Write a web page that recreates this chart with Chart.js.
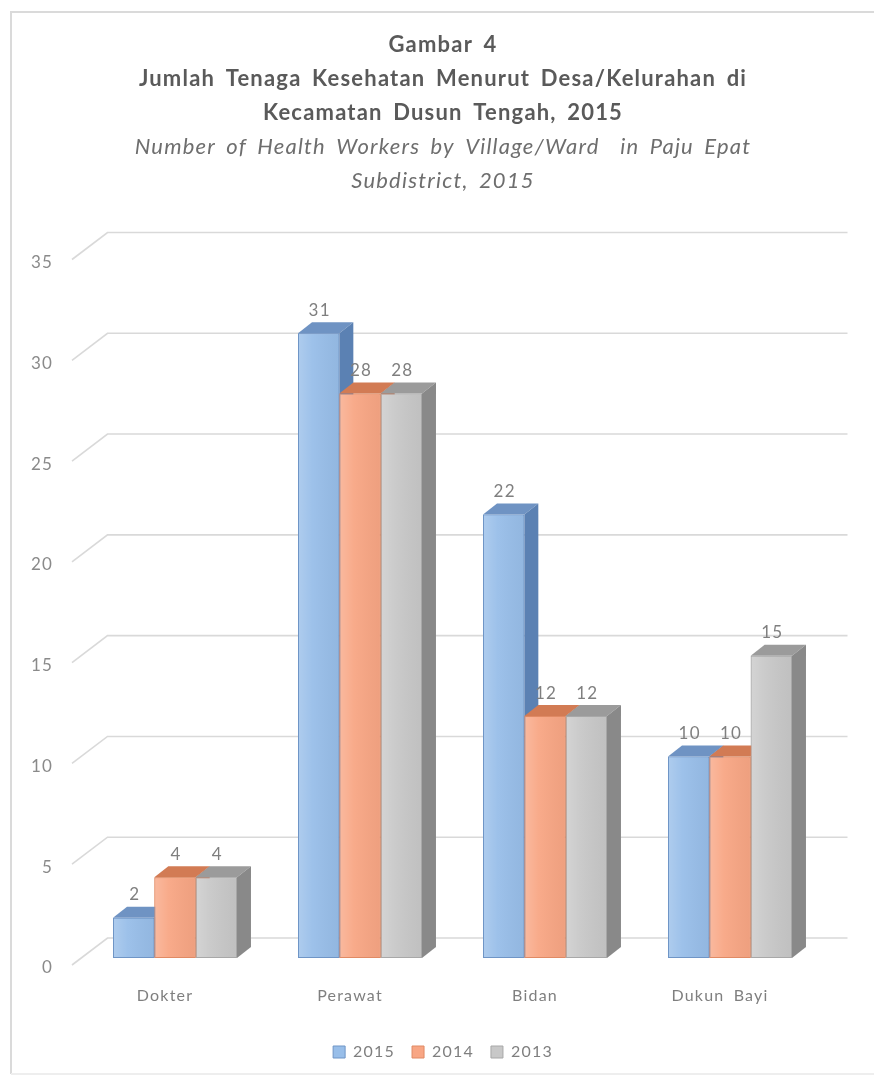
<!DOCTYPE html>
<html><head><meta charset="utf-8">
<script src="https://cdn.jsdelivr.net/npm/chart.js@4/dist/chart.umd.min.js"></script>
<style>html,body{margin:0;padding:0;background:#fff}canvas{display:block}</style>
</head><body>
<canvas id="c" width="874" height="1079"></canvas>
<script>
const categories = ['Dokter', 'Perawat', 'Bidan', 'Dukun Bayi'];
const years = ['2015', '2014', '2013'];
const values2015 = [2, 31, 22, 10];
const values2014 = [4, 28, 12, 10];
const values2013 = [4, 28, 12, 15];
const yTicks = [0, 5, 10, 15, 20, 25, 30, 35];
const titleLines = ['Gambar 4', 'Jumlah Tenaga Kesehatan Menurut Desa/Kelurahan di', 'Kecamatan Dusun Tengah, 2015'];
const subtitleLines = ['Number of Health Workers by Village/Ward  in Paju Epat', 'Subdistrict, 2015'];

const faces = {
  '2015': { front: '#98bee9', border: '#6f95c6', top: '#6f93c3', side: '#5b81b3' },
  '2014': { front: '#f8a684', border: '#e08a64', top: '#d27b54', side: '#c06944' },
  '2013': { front: '#c8c8c8', border: '#a8a8a8', top: '#9b9b9b', side: '#898989' }
};
const DX = 14, DY = 11;
const FONT = 'Lato, "Open Sans", sans-serif';

const seriesValues = [values2015, values2014, values2013];
const datasets = years.map((yr, i) => ({
  label: yr,
  data: seriesValues[i],
  backgroundColor: faces[yr].front,
  borderColor: faces[yr].border,
  borderWidth: 1,
  borderSkipped: false,
  categoryPercentage: 0.67,
  barPercentage: 1.0
}));

function applySpacing(chart) {
  const ctx = chart.ctx;
  if ('letterSpacing' in ctx) ctx.letterSpacing = '1.2px';
  if ('wordSpacing' in ctx) ctx.wordSpacing = '4px';
}

const spacingPlugin = {
  id: 'spacing',
  beforeInit: applySpacing,
  beforeUpdate: applySpacing,
  beforeLayout: applySpacing,
  beforeDraw: applySpacing
};

const framePlugin = {
  id: 'frame',
  beforeDraw(chart) {
    const ctx = chart.ctx;
    ctx.save();
    ctx.fillStyle = '#ffffff';
    ctx.fillRect(0, 0, chart.width, chart.height);
    ctx.strokeStyle = '#dadada';
    ctx.lineWidth = 2;
    ctx.beginPath();
    ctx.moveTo(11, chart.height - 5);
    ctx.lineTo(11, 12);
    ctx.lineTo(chart.width, 12);
    ctx.stroke();
    ctx.strokeStyle = '#eeeeee';
    ctx.beginPath();
    ctx.moveTo(11, chart.height - 5);
    ctx.lineTo(chart.width, chart.height - 5);
    ctx.stroke();
    ctx.restore();
  }
};

const wallPlugin = {
  id: 'wall',
  beforeDatasetsDraw(chart) {
    const ctx = chart.ctx, ca = chart.chartArea, ys = chart.scales.y;
    ctx.save();
    ctx.strokeStyle = '#d9d9d9';
    ctx.lineWidth = 1.6;
    yTicks.forEach(v => {
      const p = ys.getPixelForValue(v);
      ctx.beginPath();
      ctx.moveTo(ca.left - 10.5, p + 7);
      ctx.lineTo(ca.left + 25, p - 20);
      ctx.lineTo(ca.right + 25, p - 20);
      ctx.stroke();
    });
    ctx.restore();
  }
};

const depthPlugin = {
  id: 'depth',
  afterDatasetsDraw(chart) {
    const ctx = chart.ctx;
    chart.data.datasets.forEach((ds, i) => {
      const f = faces[ds.label];
      const meta = chart.getDatasetMeta(i);
      meta.data.forEach(bar => {
        bar.draw(ctx, chart.chartArea);
        const { x, y, base, width } = bar.getProps(['x', 'y', 'base', 'width'], true);
        const l = x - width / 2, r = x + width / 2;
        ctx.save();
        const g = ctx.createLinearGradient(l, 0, r, 0);
        g.addColorStop(0, 'rgba(255,255,255,0.22)');
        g.addColorStop(0.35, 'rgba(255,255,255,0.05)');
        g.addColorStop(1, 'rgba(0,0,0,0.04)');
        ctx.fillStyle = g;
        ctx.fillRect(l + 1, y + 1, width - 2, base - y - 2);
        ctx.fillStyle = f.top;
        ctx.beginPath();
        ctx.moveTo(l, y);
        ctx.lineTo(l + DX, y - DY);
        ctx.lineTo(r + DX, y - DY);
        ctx.lineTo(r, y);
        ctx.closePath();
        ctx.fill();
        ctx.fillStyle = f.side;
        ctx.beginPath();
        ctx.moveTo(r, y);
        ctx.lineTo(r + DX, y - DY);
        ctx.lineTo(r + DX, base - DY);
        ctx.lineTo(r, base);
        ctx.closePath();
        ctx.fill();
        ctx.restore();
      });
    });
    ctx.save();
    ctx.fillStyle = '#7f7f7f';
    ctx.font = '17px ' + FONT;
    ctx.textAlign = 'center';
    ctx.textBaseline = 'middle';
    chart.data.datasets.forEach((ds, i) => {
      const meta = chart.getDatasetMeta(i);
      meta.data.forEach((bar, j) => {
        const { x, y } = bar.getProps(['x', 'y'], true);
        ctx.fillText(String(ds.data[j]), x + 1, y - 23);
      });
    });
    ctx.restore();
  }
};

new Chart(document.getElementById('c'), {
  type: 'bar',
  data: { labels: categories, datasets },
  plugins: [spacingPlugin, framePlugin, wallPlugin, depthPlugin],
  options: {
    responsive: false,
    animation: false,
    layout: { padding: { left: 24, right: 12, top: 0, bottom: 9 } },
    plugins: {
      title: {
        display: true,
        text: titleLines,
        color: '#5a5a5a',
        font: { family: FONT, size: 22, weight: 'bold', lineHeight: '34px' },
        padding: { top: 28, bottom: 0 }
      },
      subtitle: {
        display: true,
        text: subtitleLines,
        color: '#6e6e6e',
        font: { family: FONT, size: 22, style: 'italic', weight: 'normal', lineHeight: '34px' },
        padding: { top: 0, bottom: 54.5 }
      },
      legend: {
        position: 'bottom',
        labels: {
          boxWidth: 12, boxHeight: 12, padding: 17,
          color: '#7f7f7f',
          font: { family: FONT, size: 16 }
        }
      },
      tooltip: { enabled: false }
    },
    scales: {
      x: {
        grid: { display: false, drawTicks: false },
        border: { display: false },
        ticks: { color: '#7f7f7f', font: { family: FONT, size: 16 }, padding: 28, labelOffset: -10 },
        afterFit(s) { s.height = 69; }
      },
      y: {
        min: 0, max: 35,
        grid: { display: false, drawTicks: false },
        border: { display: false },
        afterBuildTicks(s) { s.ticks = yTicks.map(v => ({ value: v })); },
        ticks: { color: '#8a8a8a', font: { family: FONT, size: 17 }, padding: 29.5, labelOffset: 10 },
        afterFit(s) { s.width = 58.5; }
      },
      y2: {
        position: 'right',
        display: true,
        grid: { display: false, drawTicks: false },
        border: { display: false },
        ticks: { display: false },
        afterFit(s) { s.width = 39.5; }
      }
    }
  }
});
</script>
</body></html>
